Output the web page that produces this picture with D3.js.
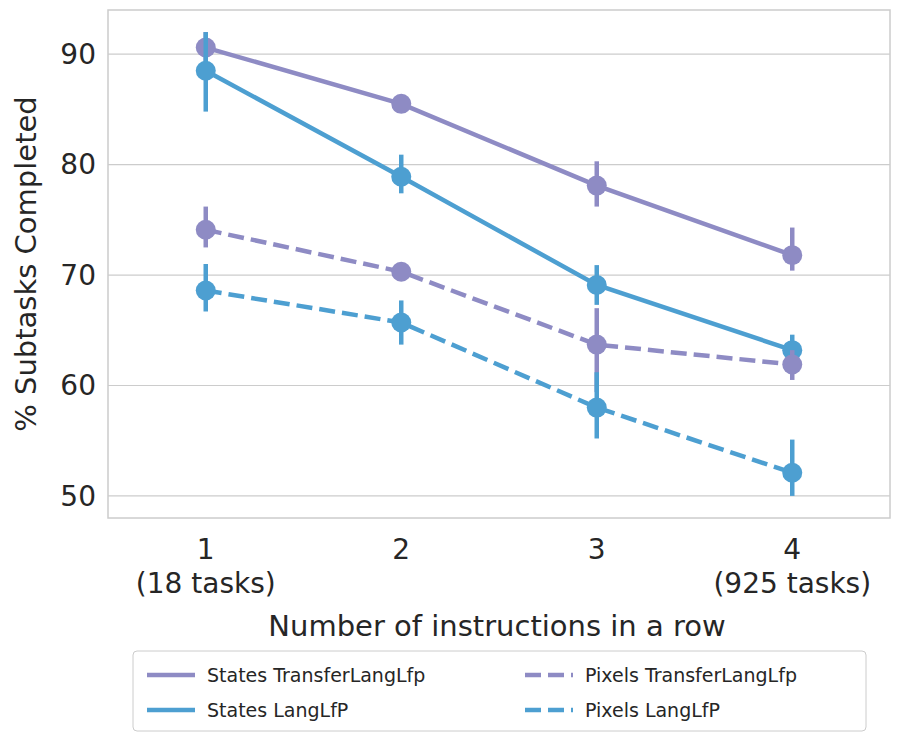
<!DOCTYPE html>
<html><head><meta charset="utf-8">
<script src="https://cdn.jsdelivr.net/npm/d3@7"></script>
<style>body{margin:0;background:#fff}text{font-family:"DejaVu Sans",sans-serif;fill:#262626}</style>
</head><body><svg id="c" width="900" height="742"></svg>
<script>
const categories=["1","2","3","4"];
const subLabels=["(18 tasks)","","","(925 tasks)"];
const yTicks=[50,60,70,80,90];
const seriesNames=["States TransferLangLfp","States LangLfP","Pixels TransferLangLfp","Pixels LangLfP"];
const seriesColors=["#8e8bc4","#4d9fd1","#8e8bc4","#4d9fd1"];
const seriesDashed=[false,false,true,true];
const means=[[90.6,85.5,78.1,71.8],[88.5,78.9,69.1,63.2],[74.1,70.3,63.7,61.9],[68.6,65.7,58.0,52.1]];
const lows=[[89.0,84.9,76.2,70.4],[84.8,77.4,67.3,61.9],[72.5,69.7,59.4,60.5],[66.7,63.7,55.2,50.0]];
const highs=[[92.0,86.0,80.3,74.3],[92.0,80.9,70.9,64.6],[76.2,70.9,67.0,63.2],[71.0,67.7,61.2,55.1]];

const svg=d3.select("#c");
const L=108,R=890,T=10,B=518;
const x=d3.scaleLinear().domain([-0.5,3.5]).range([L,R]);
const y=d3.scaleLinear().domain([48.0,94.0]).range([B,T]);
svg.append("g").selectAll("line").data(yTicks).join("line")
 .attr("x1",L).attr("x2",R).attr("y1",d=>y(d)).attr("y2",d=>y(d)).attr("stroke","#cccccc").attr("stroke-width",1.2);
svg.append("rect").attr("x",L).attr("y",T).attr("width",R-L).attr("height",B-T).attr("fill","none").attr("stroke","#cccccc").attr("stroke-width",1.5);
svg.append("g").selectAll("text").data(yTicks).join("text").attr("x",L-12).attr("y",d=>y(d)).attr("dy","0.35em")
 .attr("text-anchor","end").attr("font-size",28).text(d=>d);
categories.forEach((c,i)=>{
 svg.append("text").attr("x",x(i)).attr("y",559).attr("text-anchor","middle").attr("font-size",28).text(c);
 if(subLabels[i]) svg.append("text").attr("x",x(i)).attr("y",593).attr("text-anchor","middle").attr("font-size",28).text(subLabels[i]);
});
svg.append("text").attr("x",(L+R)/2-2).attr("y",636).attr("text-anchor","middle").attr("font-size",29).text("Number of instructions in a row");
svg.append("text").attr("transform",`translate(36,${(T+B)/2})rotate(-90)`).attr("text-anchor","middle").attr("font-size",29).text("% Subtasks Completed");

seriesNames.forEach((n,s)=>{
 const g=svg.append("g");
 const col=seriesColors[s];
 g.append("path").attr("d",d3.line().x((d,i)=>x(i)).y(d=>y(d))(means[s])).attr("fill","none")
  .attr("stroke",col).attr("stroke-width",4.5).attr("stroke-dasharray",seriesDashed[s]?"16,7":null);
 g.selectAll("line").data(means[s]).join("line").attr("x1",(d,i)=>x(i)).attr("x2",(d,i)=>x(i))
  .attr("y1",(d,i)=>y(lows[s][i])).attr("y2",(d,i)=>y(highs[s][i])).attr("stroke",col).attr("stroke-width",4.5);
 g.selectAll("circle").data(means[s]).join("circle").attr("cx",(d,i)=>x(i)).attr("cy",d=>y(d)).attr("r",10).attr("fill",col);
});

const lg=svg.append("g");
lg.append("rect").attr("x",133).attr("y",651).attr("width",733).attr("height",80).attr("rx",4).attr("fill","#fff").attr("stroke","#cccccc");
seriesNames.forEach((n,s)=>{
 const col=Math.floor(s/2), row=s%2;
 const lx=col?525:147, ly=675+row*35;
 lg.append("line").attr("x1",lx).attr("x2",lx+48).attr("y1",ly).attr("y2",ly).attr("stroke",seriesColors[s]).attr("stroke-width",4.5)
  .attr("stroke-dasharray",seriesDashed[s]?"16,7":null);
 lg.append("text").attr("x",lx+60).attr("y",ly).attr("dy","0.35em").attr("font-size",19).text(n);
});
</script></body></html>
